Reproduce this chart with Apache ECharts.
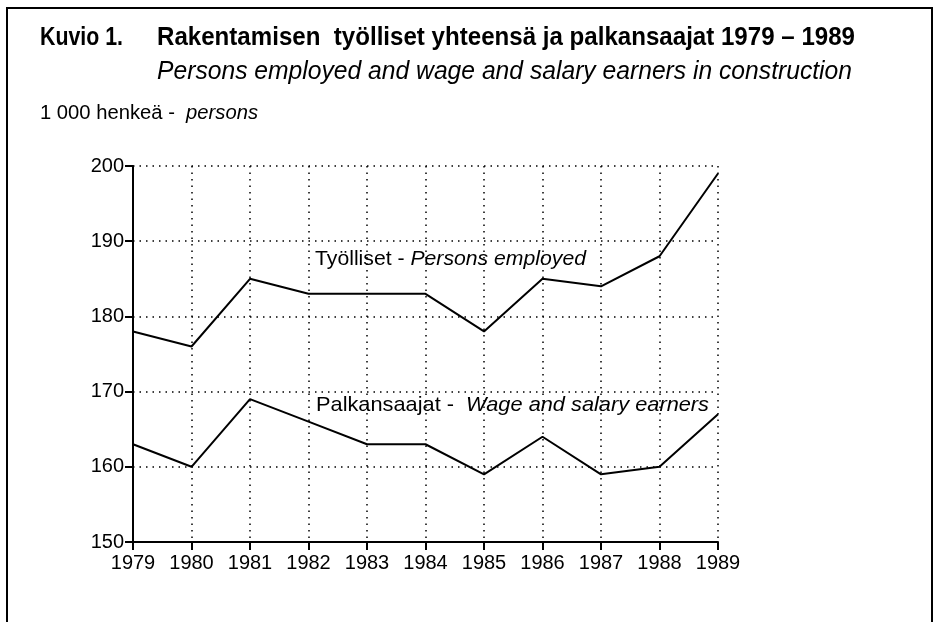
<!DOCTYPE html>
<html><head><meta charset="utf-8">
<script src="https://cdn.jsdelivr.net/npm/echarts@6/dist/echarts.min.js"></script>
<style>html,body{margin:0;padding:0;background:#fff}#c{width:935px;height:622px}</style>
</head><body><div id="c"></div>
<script>
const years = ['1979','1980','1981','1982','1983','1984','1985','1986','1987','1988','1989'];
const employed = [178,176,185,183,183,183,178,185,184,188,199];
const wageEarners = [163,160,169,166,163,163,159,164,159,160,167];
const yTicks = [150,160,170,180,190,200];

const sans = "'Liberation Sans',Arial,sans-serif";
const ctx = document.createElement('canvas').getContext('2d');
function w(font, t){ ctx.font = font; return ctx.measureText(t).width; }
function fitText(x, y, parts, target){
  let total = 0; const rich = {}; let str = '';
  parts.forEach((p,i)=>{ total += w(p[1], p[0]); rich['p'+i] = {font:p[1], fill:'#000'}; str += '{p'+i+'|'+p[0]+'}'; });
  return {type:'text', x:x, y:y, z:10, scaleX: target/total, originX:0, originY:0,
    style:{text:str, rich:rich, verticalAlign:'middle'}};
}
const fB = "bold 26px "+sans, fI = "italic 25px "+sans;
const fU = "20px "+sans, fUI = "italic 20px "+sans;
const fA = "21px "+sans, fAI = "italic 21px "+sans;

const chart = echarts.init(document.getElementById('c'));
chart.setOption({
  animation:false,
  backgroundColor:'#fff',
  grid:{left:133,right:217,top:166,bottom:80,containLabel:false},
  xAxis:{type:'category',data:years,boundaryGap:false,
    axisLine:{lineStyle:{color:'#000',width:2}},
    axisTick:{show:true,length:8,lineStyle:{color:'#000',width:2},alignWithLabel:true},
    axisLabel:{color:'#000',fontFamily:sans,fontSize:20,margin:11,interval:0},
    splitLine:{show:true,lineStyle:{color:'#000',width:1.5,type:[1.5,5]}}
  },
  yAxis:{type:'value',min:yTicks[0],max:yTicks[yTicks.length-1],interval:10,
    axisLine:{show:true,lineStyle:{color:'#000',width:2}},
    axisTick:{show:true,length:8,lineStyle:{color:'#000',width:2}},
    axisLabel:{color:'#000',fontFamily:sans,fontSize:20,margin:9},
    splitLine:{show:true,lineStyle:{color:'#000',width:1.5,type:[1.5,5]}}
  },
  series:[
    {name:'Työlliset',type:'line',data:employed,symbol:'none',lineStyle:{color:'#000',width:2},z:5},
    {name:'Palkansaajat',type:'line',data:wageEarners,symbol:'none',lineStyle:{color:'#000',width:2},z:5}
  ],
  graphic:[
    {type:'rect',shape:{x:7,y:8,width:925,height:700},style:{fill:null,stroke:'#000',lineWidth:2},z:-1,silent:true},
    fitText(40,38,[['Kuvio 1.',fB]],83),
    fitText(157,38,[['Rakentamisen  työlliset yhteensä ja palkansaajat 1979 – 1989',fB]],698),
    fitText(157,72,[['Persons employed and wage and salary earners in construction',fI]],695),
    fitText(40,113,[['1 000 henkeä -  ',fU],['persons',fUI]],218),
    fitText(315,259,[['Työlliset - ',fA],['Persons employed',fAI]],271),
    fitText(316,405,[['Palkansaajat -  ',fA],['Wage and salary earners',fAI]],393)
  ]
});
</script></body></html>
